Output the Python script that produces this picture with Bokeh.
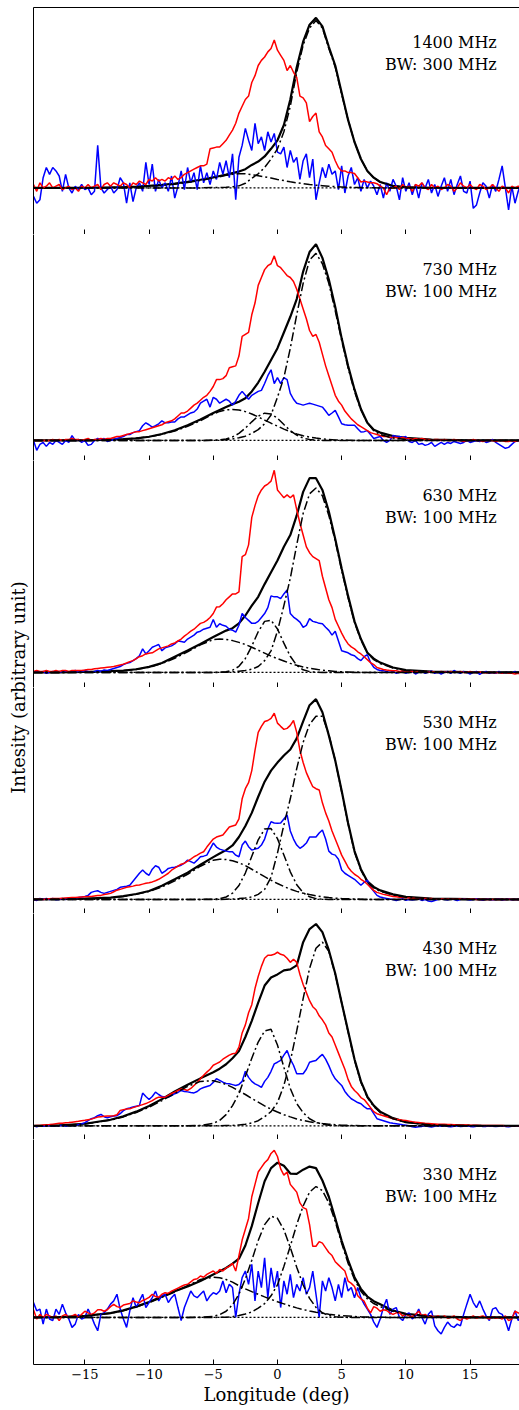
import numpy as np
from bokeh.plotting import figure
from bokeh.models import Range1d, FixedTicker, LinearAxis, Label, Span
from bokeh.layouts import row, column
from bokeh.embed import file_html
from bokeh.resources import INLINE
from bokeh.core.properties import value

FONT = "DejaVu Serif"

# ---------------- data ----------------
FREQ = ["1400 MHz", "730 MHz", "630 MHz", "530 MHz", "430 MHz", "330 MHz"]
BW = ["BW: 300 MHz", "BW: 100 MHz", "BW: 100 MHz", "BW: 100 MHz", "BW: 100 MHz", "BW: 100 MHz"]
TICKS = [-15, -10, -5, 0, 5, 10, 15]
TICK_LABELS = ["\u221215", "\u221210", "\u22125", "0", "5", "10", "15"]

# smooth-curve sample longitudes (deg)
XS = [-19, -17, -15, -13, -12, -11, -10, -9, -8, -7, -6, -5,
      -4.5, -4, -3.5, -3, -2.5, -2, -1.5, -1, -0.5, 0, 0.5, 1, 1.5, 2, 2.5,
      3, 3.5, 4, 4.5, 5, 5.5, 6, 6.5, 7, 7.5, 8,
      9, 10, 12, 15, 19]
# noisy-profile sample longitudes: -19 .. 19 every 0.25 deg
XN = np.linspace(-19, 19, 153)

# ---- 1400 MHz ----
P1_TOT = [0, 0, 0.001, 0.003, 0.005, 0.008, 0.012, 0.018, 0.026, 0.036, 0.048, 0.062,
          0.070, 0.078, 0.087, 0.096, 0.11, 0.135, 0.155, 0.185, 0.23, 0.28, 0.37, 0.52, 0.71, 0.86, 0.96,
          1.0, 0.95, 0.83, 0.72, 0.56, 0.40, 0.27, 0.17, 0.10, 0.06, 0.035,
          0.012, 0.005, 0.001, 0, 0]
P1_C1 = [0, 0, 0, 0.002, 0.004, 0.006, 0.01, 0.015, 0.022, 0.032, 0.044, 0.058,
         0.066, 0.074, 0.080, 0.084, 0.083, 0.078, 0.072, 0.065, 0.058, 0.050, 0.043, 0.036, 0.030, 0.025, 0.020,
         0.016, 0.013, 0.010, 0.008, 0.006, 0.004, 0.003, 0.002, 0.001, 0.001, 0,
         0, 0, 0, 0, 0]
P1_C2 = [0, 0, 0, 0, 0, 0, 0, 0, 0, 0, 0, 0.002,
         0.003, 0.004, 0.007, 0.012, 0.027, 0.057, 0.083, 0.12, 0.17, 0.23, 0.33, 0.48, 0.68, 0.84, 0.94,
         0.985, 0.94, 0.82, 0.71, 0.55, 0.40, 0.27, 0.17, 0.10, 0.06, 0.035,
         0.012, 0.005, 0.001, 0, 0]
P1_RED = [0.02, -0.02, 0.03, 0.00, 0.01, 0.03, 0.00, 0.01,
          0.02, -0.01, 0.00, 0.01, -0.01, 0.00, -0.02, 0.01,
          0.00, 0.02, 0.00, 0.01, 0.02, -0.01, 0.02, 0.03,
          0.01, 0.03, 0.02, 0.01, 0.03, 0.02, 0.00, 0.03,
          0.02, 0.04, 0.03, 0.02, 0.05, 0.04, 0.06, 0.04,
          0.05, 0.04, 0.06, 0.05, 0.07, 0.05, 0.06, 0.08,
          0.09, 0.10, 0.11, 0.12, 0.13, 0.13, 0.14, 0.23,
          0.235, 0.24, 0.24, 0.26, 0.28, 0.31, 0.34, 0.38,
          0.44, 0.48, 0.52, 0.54, 0.62, 0.66, 0.72, 0.75,
          0.77, 0.80, 0.82, 0.87, 0.81, 0.78, 0.75, 0.69,
          0.72, 0.68, 0.65, 0.54, 0.53, 0.50, 0.39, 0.42,
          0.44, 0.33, 0.30, 0.25, 0.23, 0.21, 0.16, 0.12,
          0.10, 0.10, 0.09, 0.09, 0.085, 0.06, 0.035, 0.04,
          0.035, 0.03, 0.03, 0.025, 0.01, 0.00, -0.04, 0.00,
          0.00, 0.01, -0.01, 0.02, 0.00, 0.01, -0.02, 0.02,
          0.01, 0.03, 0.00, -0.01, 0.02, 0.00, 0.01, -0.01,
          0.00, 0.02, 0.01, -0.02, 0.00, 0.03, 0.01, 0.00,
          0.02, 0.00, -0.01, 0.02, 0.01, -0.01, 0.00, 0.02,
          0.00, -0.02, 0.01, 0.00, -0.03, 0.01, 0.00, 0.01,
          0.00]
P1_BLUE = [-0.05, -0.09, -0.07, 0.06, 0.12, 0.08, 0.12, 0.10,
           0.07, -0.02, 0.08, 0.00, -0.03, 0.01, -0.01, 0.02,
           -0.01, 0.00, -0.04, -0.02, 0.25, 0.00, -0.03, -0.01,
           0.01, -0.03, -0.01, 0.06, 0.03, -0.09, 0.03, -0.08,
           0.00, 0.03, -0.02, 0.15, 0.02, 0.14, -0.02, 0.05,
           0.00, 0.03, -0.02, 0.07, -0.06, 0.01, 0.10, -0.01,
           0.12, 0.03, 0.09, -0.01, 0.13, 0.03, 0.09, 0.02,
           0.10, 0.05, 0.15, 0.08, 0.16, 0.06, 0.20, -0.07,
           0.18, 0.25, 0.35, 0.28, 0.22, 0.38, 0.26, 0.30,
           0.22, 0.33, 0.27, 0.32, 0.21, 0.20, 0.24, 0.12,
           0.22, 0.15, 0.18, 0.05, 0.16, 0.20, 0.06, 0.17,
           -0.07, 0.03, 0.12, 0.06, 0.14, 0.08, 0.10, -0.01,
           0.13, -0.03, 0.07, 0.12, 0.02, 0.06, -0.02, 0.05,
           0.00, 0.04, 0.01, -0.04, 0.02, -0.06, 0.03, -0.02,
           0.05, 0.01, -0.07, 0.06, -0.02, 0.03, -0.04, 0.02,
           -0.06, 0.03, 0.00, 0.05, -0.03, 0.02, -0.05, 0.01,
           0.06, -0.02, 0.05, -0.04, 0.02, 0.07, -0.02, -0.03,
           0.04, -0.12, -0.10, -0.03, 0.03, 0.01, -0.06, 0.02,
           -0.02, 0.05, 0.13, 0.00, -0.13, 0.01, -0.09, -0.02,
           0.03]

# ---- 730 MHz ----
P2_TOT = [0, 0, 0.001, 0.004, 0.007, 0.011, 0.019, 0.033, 0.052, 0.078, 0.107, 0.14,
          0.155, 0.17, 0.185, 0.197, 0.215, 0.25, 0.295, 0.35, 0.41, 0.47, 0.55, 0.63, 0.72, 0.86, 0.96,
          1.0, 0.93, 0.82, 0.68, 0.52, 0.38, 0.26, 0.16, 0.09, 0.055, 0.04,
          0.022, 0.013, 0.005, 0.001, 0]
P2_C1 = [0, 0, 0, 0.003, 0.006, 0.011, 0.019, 0.031, 0.048, 0.072, 0.10, 0.135,
         0.148, 0.156, 0.158, 0.155, 0.147, 0.135, 0.12, 0.104, 0.088, 0.073, 0.058, 0.045, 0.033, 0.024, 0.017,
         0.012, 0.008, 0.005, 0.003, 0.002, 0.001, 0, 0, 0, 0, 0,
         0, 0, 0, 0, 0]
P2_C2 = [0, 0, 0, 0, 0, 0, 0, 0, 0, 0, 0, 0.001,
         0.003, 0.008, 0.018, 0.036, 0.063, 0.095, 0.124, 0.139, 0.135, 0.113, 0.081, 0.05, 0.027, 0.012, 0.005,
         0.002, 0, 0, 0, 0, 0, 0, 0, 0, 0, 0,
         0, 0, 0, 0, 0]
P2_C3 = [0, 0, 0, 0, 0, 0, 0, 0, 0, 0, 0, 0.001,
         0.002, 0.004, 0.008, 0.014, 0.022, 0.036, 0.055, 0.085, 0.13, 0.22, 0.32, 0.47, 0.64, 0.80, 0.92,
         0.953, 0.90, 0.80, 0.66, 0.51, 0.37, 0.25, 0.155, 0.09, 0.05, 0.03,
         0.012, 0.005, 0.001, 0, 0]
P2_RED = [0.00, 0.00, 0.00, 0.00, 0.00, 0.00, 0.005, 0.00,
          0.005, 0.00, 0.005, 0.005, 0.01, 0.005, 0.005, 0.00,
          0.005, 0.01, 0.00, 0.005, 0.005, 0.01, 0.005, 0.01,
          0.01, 0.015, 0.02, 0.02, 0.025, 0.03, 0.035, 0.04,
          0.045, 0.045, 0.05, 0.055, 0.06, 0.065, 0.07, 0.075,
          0.08, 0.09, 0.095, 0.10, 0.11, 0.125, 0.14, 0.14,
          0.15, 0.165, 0.18, 0.19, 0.205, 0.22, 0.23, 0.25,
          0.275, 0.31, 0.31, 0.315, 0.33, 0.37, 0.375, 0.38,
          0.43, 0.53, 0.54, 0.55, 0.64, 0.70, 0.79, 0.83,
          0.87, 0.89, 0.90, 0.94, 0.89, 0.88, 0.86, 0.84,
          0.83, 0.81, 0.77, 0.72, 0.67, 0.62, 0.56, 0.53,
          0.54, 0.50, 0.44, 0.38, 0.33, 0.28, 0.23, 0.20,
          0.18, 0.15, 0.13, 0.11, 0.095, 0.08, 0.07, 0.06,
          0.05, 0.04, 0.035, 0.03, 0.025, 0.02, 0.02, 0.015,
          0.015, 0.015, 0.01, 0.015, 0.01, 0.01, 0.005, 0.01,
          0.005, 0.01, 0.005, 0.005, 0.00, 0.005, 0.005, 0.00,
          0.005, 0.00, 0.00, 0.005, 0.00, 0.00, -0.005, 0.00,
          0.00, 0.005, 0.00, 0.00, -0.005, 0.00, 0.00, 0.00,
          -0.005, 0.00, 0.00, -0.005, -0.005, 0.00, -0.005, 0.00,
          0.00]
P2_BLUE = [0.00, -0.05, -0.02, -0.01, -0.03, -0.01, -0.02, 0.00,
           -0.01, -0.02, 0.00, -0.01, 0.025, 0.00, 0.005, -0.01,
           0.00, -0.025, -0.02, 0.00, 0.01, 0.005, 0.01, -0.005,
           0.00, 0.005, 0.01, 0.015, 0.02, 0.03, 0.03, 0.04,
           0.045, 0.05, 0.075, 0.09, 0.08, 0.068, 0.075, 0.085,
           0.10, 0.09, 0.09, 0.094, 0.094, 0.11, 0.12, 0.12,
           0.13, 0.14, 0.145, 0.16, 0.19, 0.20, 0.21, 0.17,
           0.22, 0.21, 0.19, 0.20, 0.21, 0.20, 0.18, 0.20,
           0.23, 0.25, 0.23, 0.21, 0.23, 0.24, 0.25, 0.255,
           0.29, 0.33, 0.36, 0.29, 0.32, 0.29, 0.32, 0.31,
           0.24, 0.21, 0.19, 0.185, 0.18, 0.185, 0.19, 0.185,
           0.18, 0.175, 0.17, 0.15, 0.128, 0.14, 0.153, 0.12,
           0.085, 0.08, 0.077, 0.077, 0.077, 0.06, 0.043, 0.045,
           0.05, 0.03, 0.01, 0.015, 0.02, 0.00, -0.01, 0.00,
           0.025, 0.02, 0.02, 0.015, 0.02, -0.005, -0.01, 0.00,
           -0.02, -0.015, -0.025, -0.02, -0.01, -0.03, -0.02, -0.01,
           -0.02, -0.01, -0.015, -0.005, -0.01, -0.015, -0.01, 0.00,
           -0.01, -0.005, 0.00, -0.005, 0.00, -0.01, -0.005, 0.005,
           -0.01, -0.02, -0.03, -0.04, -0.035, -0.02, -0.005, 0.00,
           0.00]

# ---- 630 MHz ----
P3_TOT = [0, 0, 0.002, 0.006, 0.009, 0.016, 0.028, 0.048, 0.08, 0.112, 0.145, 0.18,
          0.197, 0.213, 0.225, 0.25, 0.29, 0.34, 0.385, 0.45, 0.51, 0.57, 0.64, 0.70, 0.80, 0.92, 0.99,
          0.99, 0.93, 0.82, 0.68, 0.53, 0.39, 0.26, 0.17, 0.10, 0.07, 0.05,
          0.025, 0.012, 0.004, 0.001, 0]
P3_C1 = [0, 0, 0.001, 0.005, 0.009, 0.015, 0.026, 0.045, 0.072, 0.105, 0.14, 0.167,
         0.17, 0.168, 0.162, 0.153, 0.142, 0.128, 0.113, 0.098, 0.083, 0.07, 0.058, 0.046, 0.036, 0.028, 0.021,
         0.016, 0.011, 0.008, 0.005, 0.003, 0.002, 0.001, 0, 0, 0, 0,
         0, 0, 0, 0, 0]
P3_C2 = [0, 0, 0, 0, 0, 0, 0, 0, 0, 0, 0, 0,
         0.001, 0.003, 0.011, 0.031, 0.071, 0.134, 0.207, 0.26, 0.266, 0.221, 0.149, 0.082, 0.036, 0.013, 0.004,
         0.001, 0, 0, 0, 0, 0, 0, 0, 0, 0, 0,
         0, 0, 0, 0, 0]
P3_C3 = [0, 0, 0, 0, 0, 0, 0, 0, 0, 0, 0, 0,
         0, 0.001, 0.003, 0.006, 0.01, 0.016, 0.03, 0.06, 0.11, 0.21, 0.34, 0.48, 0.65, 0.81, 0.91,
         0.94, 0.90, 0.80, 0.67, 0.52, 0.38, 0.255, 0.165, 0.10, 0.065, 0.045,
         0.022, 0.01, 0.003, 0, 0]
P3_RED = [0.005, 0.01, 0.005, 0.005, 0.01, 0.005, 0.005, 0.01,
          0.005, 0.01, 0.01, 0.005, 0.01, 0.01, 0.01, 0.01,
          0.012, 0.015, 0.015, 0.018, 0.02, 0.022, 0.024, 0.026,
          0.028, 0.03, 0.034, 0.038, 0.042, 0.048, 0.055, 0.06,
          0.07, 0.08, 0.085, 0.094, 0.097, 0.10, 0.11, 0.12,
          0.125, 0.13, 0.135, 0.145, 0.15, 0.16, 0.17, 0.185,
          0.197, 0.21, 0.22, 0.235, 0.25, 0.255, 0.265, 0.28,
          0.30, 0.333, 0.335, 0.35, 0.37, 0.385, 0.40, 0.40,
          0.41, 0.59, 0.60, 0.65, 0.79, 0.85, 0.90, 0.93,
          0.95, 0.96, 0.975, 1.03, 0.93, 0.91, 0.89, 0.905,
          0.89, 0.905, 0.83, 0.76, 0.70, 0.64, 0.61, 0.59,
          0.58, 0.57, 0.49, 0.43, 0.37, 0.33, 0.27, 0.235,
          0.20, 0.17, 0.145, 0.13, 0.12, 0.105, 0.094, 0.08,
          0.065, 0.05, 0.04, 0.025, 0.02, 0.015, 0.012, 0.01,
          0.008, 0.008, 0.005, 0.008, 0.005, 0.005, 0.005, 0.002,
          0.005, 0.002, 0.005, 0.00, 0.005, 0.002, 0.00, 0.005,
          0.002, 0.00, 0.005, 0.00, 0.002, 0.005, 0.00, 0.00,
          0.005, 0.00, 0.00, 0.002, 0.00, -0.002, 0.00, 0.00,
          -0.002, 0.00, -0.005, 0.00, -0.005, -0.005, -0.008, -0.005,
          -0.008]
P3_BLUE = [0.00, 0.005, 0.00, 0.005, -0.005, 0.00, 0.005, 0.00,
           0.005, 0.00, 0.008, 0.00, 0.005, 0.01, 0.00, 0.005,
           0.01, 0.005, 0.00, 0.005, 0.01, 0.005, 0.012, 0.01,
           0.015, 0.02, 0.025, 0.03, 0.04, 0.046, 0.05, 0.06,
           0.07, 0.085, 0.12, 0.094, 0.11, 0.128, 0.135, 0.142,
           0.11, 0.125, 0.13, 0.135, 0.145, 0.16, 0.157, 0.154,
           0.17, 0.18, 0.19, 0.205, 0.21, 0.22, 0.225, 0.23,
           0.27, 0.23, 0.248, 0.24, 0.235, 0.22, 0.215, 0.205,
           0.24, 0.30, 0.28, 0.265, 0.25, 0.25, 0.26, 0.28,
           0.30, 0.33, 0.39, 0.385, 0.385, 0.376, 0.40, 0.42,
           0.30, 0.282, 0.27, 0.256, 0.23, 0.24, 0.274, 0.26,
           0.256, 0.25, 0.248, 0.23, 0.214, 0.19, 0.21, 0.16,
           0.11, 0.105, 0.10, 0.09, 0.085, 0.07, 0.06, 0.08,
           0.09, 0.05, 0.026, 0.015, 0.01, 0.008, 0.005, 0.00,
           0.005, -0.005, 0.00, 0.005, -0.005, 0.00, 0.005, -0.008,
           0.00, 0.005, -0.005, 0.00, 0.008, -0.005, 0.00, -0.008,
           0.00, 0.005, -0.005, 0.01, 0.00, -0.005, 0.005, 0.00,
           -0.008, 0.00, 0.005, -0.01, 0.00, 0.005, -0.005, 0.00,
           -0.005, 0.005, -0.005, 0.00, 0.00, -0.005, 0.005, -0.005,
           0.00]

# ---- 530 MHz ----
P4_TOT = [0, 0.001, 0.004, 0.009, 0.016, 0.027, 0.042, 0.068, 0.10, 0.133, 0.172, 0.21,
          0.228, 0.245, 0.268, 0.31, 0.365, 0.43, 0.51, 0.585, 0.64, 0.68, 0.715, 0.745, 0.80, 0.885, 0.965,
          0.995, 0.93, 0.815, 0.69, 0.54, 0.38, 0.24, 0.15, 0.09, 0.062, 0.045,
          0.025, 0.013, 0.004, 0.001, 0]
P4_C1 = [0, 0.001, 0.003, 0.008, 0.015, 0.025, 0.04, 0.062, 0.092, 0.125, 0.165, 0.195,
         0.2, 0.198, 0.192, 0.182, 0.168, 0.15, 0.132, 0.113, 0.095, 0.079, 0.064, 0.051, 0.04, 0.031, 0.024,
         0.018, 0.013, 0.009, 0.006, 0.004, 0.003, 0.002, 0.001, 0, 0, 0,
         0, 0, 0, 0, 0]
P4_C2 = [0, 0, 0, 0, 0, 0, 0, 0, 0, 0, 0, 0.001,
         0.004, 0.012, 0.031, 0.069, 0.131, 0.214, 0.296, 0.35, 0.352, 0.302, 0.221, 0.137, 0.073, 0.033, 0.013,
         0.004, 0.001, 0, 0, 0, 0, 0, 0, 0, 0, 0,
         0, 0, 0, 0, 0]
P4_C3 = [0, 0, 0, 0, 0, 0, 0, 0, 0, 0, 0, 0,
         0, 0.001, 0.002, 0.004, 0.007, 0.012, 0.025, 0.05, 0.11, 0.23, 0.37, 0.50, 0.65, 0.78, 0.87,
         0.91, 0.91, 0.82, 0.69, 0.535, 0.375, 0.235, 0.145, 0.085, 0.057, 0.04,
         0.022, 0.011, 0.003, 0, 0]
P4_RED = [0.00, 0.00, 0.002, 0.00, 0.002, 0.003, 0.004, 0.004,
          0.005, 0.006, 0.007, 0.008, 0.009, 0.01, 0.011, 0.012,
          0.013, 0.014, 0.015, 0.017, 0.019, 0.02, 0.024, 0.027,
          0.03, 0.038, 0.046, 0.05, 0.055, 0.06, 0.063, 0.066,
          0.07, 0.072, 0.076, 0.08, 0.083, 0.087, 0.093, 0.10,
          0.11, 0.12, 0.13, 0.145, 0.155, 0.165, 0.175, 0.18,
          0.19, 0.20, 0.212, 0.22, 0.23, 0.237, 0.26, 0.28,
          0.30, 0.31, 0.315, 0.32, 0.34, 0.36, 0.365, 0.37,
          0.40, 0.50, 0.55, 0.58, 0.64, 0.74, 0.83, 0.86,
          0.884, 0.889, 0.90, 0.925, 0.876, 0.86, 0.845, 0.85,
          0.865, 0.889, 0.83, 0.74, 0.68, 0.63, 0.594, 0.56,
          0.55, 0.544, 0.48, 0.43, 0.39, 0.34, 0.30, 0.26,
          0.22, 0.19, 0.16, 0.14, 0.125, 0.115, 0.10, 0.09,
          0.075, 0.06, 0.045, 0.035, 0.03, 0.025, 0.022, 0.018,
          0.015, 0.013, 0.011, 0.01, 0.008, 0.007, 0.006, 0.005,
          0.005, 0.004, 0.004, 0.003, 0.004, 0.003, 0.002, 0.003,
          0.002, 0.002, 0.003, 0.002, 0.001, 0.002, 0.001, 0.001,
          0.001, 0.002, 0.00, 0.001, 0.00, 0.001, 0.00, 0.00,
          0.00, 0.001, 0.00, 0.00, 0.001, 0.00, 0.00, 0.00,
          0.00]
P4_BLUE = [0.00, -0.005, 0.005, 0.00, 0.005, 0.00, 0.005, -0.002,
           0.00, 0.005, 0.00, 0.008, 0.00, 0.005, 0.01, 0.012,
           0.015, 0.02, 0.035, 0.04, 0.043, 0.035, 0.03, 0.035,
           0.04, 0.045, 0.05, 0.06, 0.063, 0.065, 0.07, 0.09,
           0.11, 0.13, 0.146, 0.13, 0.12, 0.15, 0.167, 0.16,
           0.13, 0.14, 0.154, 0.158, 0.16, 0.165, 0.17, 0.18,
           0.195, 0.188, 0.18, 0.195, 0.212, 0.215, 0.22, 0.25,
           0.28, 0.26, 0.25, 0.245, 0.24, 0.237, 0.237, 0.22,
           0.212, 0.27, 0.29, 0.262, 0.245, 0.25, 0.254, 0.27,
           0.30, 0.35, 0.386, 0.38, 0.378, 0.38, 0.40, 0.42,
           0.34, 0.30, 0.27, 0.254, 0.265, 0.28, 0.31, 0.31,
           0.31, 0.33, 0.345, 0.30, 0.24, 0.225, 0.22, 0.20,
           0.146, 0.13, 0.12, 0.11, 0.10, 0.085, 0.07, 0.085,
           0.096, 0.06, 0.04, 0.02, 0.012, 0.008, 0.005, 0.002,
           0.00, -0.005, 0.00, 0.003, -0.004, 0.00, -0.003, 0.00,
           0.002, -0.005, 0.00, -0.008, -0.01, -0.005, 0.00, 0.003,
           0.00, -0.003, 0.002, 0.00, -0.005, 0.00, 0.004, 0.00,
           -0.003, 0.00, 0.003, 0.00, -0.004, 0.002, 0.00, -0.002,
           0.00, 0.003, -0.003, 0.00, 0.002, -0.002, 0.00, 0.00,
           0.00]

# ---- 430 MHz ----
P5_TOT = [0, 0.002, 0.01, 0.03, 0.047, 0.07, 0.098, 0.132, 0.17, 0.203, 0.235, 0.265,
          0.283, 0.305, 0.335, 0.37, 0.44, 0.52, 0.61, 0.695, 0.735, 0.75, 0.77, 0.775, 0.795, 0.91, 0.975,
          1.0, 0.96, 0.87, 0.755, 0.61, 0.47, 0.33, 0.22, 0.145, 0.10, 0.07,
          0.038, 0.018, 0.005, 0.001, 0]
P5_C1 = [0, 0.002, 0.009, 0.028, 0.044, 0.066, 0.092, 0.125, 0.16, 0.195, 0.22, 0.223,
         0.215, 0.205, 0.19, 0.172, 0.155, 0.135, 0.117, 0.099, 0.082, 0.068, 0.055, 0.044, 0.034, 0.026, 0.02,
         0.015, 0.011, 0.008, 0.005, 0.003, 0.002, 0.001, 0, 0, 0, 0,
         0, 0, 0, 0, 0]
P5_C2 = [0, 0, 0, 0, 0, 0, 0, 0, 0, 0, 0.002, 0.012,
         0.027, 0.055, 0.10, 0.16, 0.245, 0.335, 0.415, 0.47, 0.478, 0.40, 0.29, 0.185, 0.11, 0.065, 0.035,
         0.018, 0.008, 0.003, 0.001, 0, 0, 0, 0, 0, 0, 0,
         0, 0, 0, 0, 0]
P5_C3 = [0, 0, 0, 0, 0, 0, 0, 0, 0, 0, 0, 0,
         0, 0.001, 0.002, 0.004, 0.008, 0.014, 0.025, 0.045, 0.07, 0.115, 0.2, 0.32, 0.47, 0.63, 0.78,
         0.88, 0.91, 0.865, 0.75, 0.61, 0.465, 0.325, 0.215, 0.14, 0.095, 0.066,
         0.035, 0.017, 0.004, 0.001, 0]
P5_RED = [0.00, 0.002, 0.002, 0.004, 0.005, 0.006, 0.008, 0.01,
          0.012, 0.013, 0.015, 0.016, 0.018, 0.02, 0.022, 0.025,
          0.027, 0.03, 0.033, 0.038, 0.043, 0.045, 0.047, 0.048,
          0.049, 0.05, 0.055, 0.076, 0.08, 0.083, 0.084, 0.09,
          0.095, 0.10, 0.105, 0.11, 0.117, 0.125, 0.135, 0.142,
          0.142, 0.142, 0.15, 0.16, 0.167, 0.175, 0.183, 0.18,
          0.175, 0.185, 0.20, 0.215, 0.233, 0.25, 0.266, 0.28,
          0.30, 0.308, 0.316, 0.33, 0.34, 0.35, 0.357, 0.36,
          0.39, 0.46, 0.50, 0.56, 0.60, 0.68, 0.74, 0.79,
          0.83, 0.845, 0.845, 0.85, 0.86, 0.85, 0.845, 0.83,
          0.81, 0.825, 0.81, 0.75, 0.70, 0.66, 0.62, 0.59,
          0.575, 0.545, 0.525, 0.50, 0.46, 0.44, 0.40, 0.36,
          0.32, 0.28, 0.23, 0.195, 0.175, 0.16, 0.14, 0.13,
          0.11, 0.09, 0.07, 0.06, 0.055, 0.05, 0.045, 0.04,
          0.035, 0.032, 0.03, 0.028, 0.026, 0.023, 0.02, 0.018,
          0.016, 0.014, 0.012, 0.011, 0.01, 0.009, 0.008, 0.007,
          0.007, 0.006, 0.006, 0.005, 0.005, 0.004, 0.004, 0.004,
          0.003, 0.003, 0.003, 0.002, 0.002, 0.002, 0.002, 0.001,
          0.001, 0.001, 0.001, 0.00, 0.00, 0.00, 0.00, 0.00,
          0.00]
P5_BLUE = [0.00, -0.005, 0.00, -0.003, 0.00, 0.002, -0.002, 0.00,
           0.00, 0.002, -0.003, 0.00, 0.003, 0.00, 0.005, 0.01,
           0.015, 0.025, 0.035, 0.04, 0.05, 0.056, 0.045, 0.04,
           0.045, 0.048, 0.05, 0.06, 0.075, 0.084, 0.088, 0.093,
           0.097, 0.10, 0.162, 0.145, 0.13, 0.145, 0.167, 0.155,
           0.145, 0.143, 0.142, 0.15, 0.159, 0.165, 0.175, 0.17,
           0.168, 0.165, 0.163, 0.17, 0.183, 0.19, 0.195, 0.20,
           0.215, 0.233, 0.225, 0.216, 0.21, 0.208, 0.204, 0.20,
           0.205, 0.22, 0.27, 0.24, 0.22, 0.208, 0.20, 0.19,
           0.22, 0.24, 0.27, 0.307, 0.315, 0.324, 0.35, 0.373,
           0.33, 0.30, 0.258, 0.258, 0.258, 0.28, 0.315, 0.32,
           0.324, 0.34, 0.354, 0.33, 0.298, 0.26, 0.233, 0.216,
           0.20, 0.17, 0.15, 0.134, 0.125, 0.115, 0.109, 0.095,
           0.084, 0.085, 0.06, 0.035, 0.03, 0.025, 0.02, 0.015,
           0.012, 0.01, 0.008, 0.005, 0.003, 0.00, -0.005, -0.007,
           -0.005, -0.003, 0.00, -0.004, -0.006, -0.003, 0.00, -0.002,
           0.00, -0.003, -0.005, -0.002, 0.00, -0.004, -0.002, 0.00,
           -0.003, -0.005, -0.002, 0.00, -0.004, -0.003, 0.00, -0.002,
           -0.004, -0.002, 0.00, -0.003, -0.005, -0.002, 0.00, -0.002,
           0.00]

# ---- 330 MHz ----
P6_TOT = [0, 0.002, 0.01, 0.028, 0.046, 0.07, 0.10, 0.135, 0.17, 0.2, 0.236, 0.278,
          0.298, 0.32, 0.348, 0.38, 0.465, 0.59, 0.74, 0.88, 0.965, 1.0, 0.98, 0.93, 0.928, 0.955, 0.975,
          0.965, 0.885, 0.78, 0.64, 0.495, 0.37, 0.26, 0.185, 0.135, 0.105, 0.085,
          0.045, 0.024, 0.007, 0.001, 0]
P6_C1 = [0, 0.002, 0.009, 0.027, 0.044, 0.067, 0.096, 0.13, 0.165, 0.205, 0.245, 0.26,
         0.256, 0.245, 0.228, 0.205, 0.185, 0.167, 0.15, 0.133, 0.117, 0.102, 0.088, 0.074, 0.062, 0.051, 0.042,
         0.034, 0.027, 0.021, 0.016, 0.012, 0.009, 0.006, 0.004, 0.003, 0.002, 0.001,
         0, 0, 0, 0, 0]
P6_C2 = [0, 0, 0, 0, 0, 0, 0, 0, 0, 0, 0.001, 0.007,
         0.018, 0.04, 0.082, 0.151, 0.249, 0.37, 0.497, 0.60, 0.654, 0.641, 0.567, 0.452, 0.325, 0.21, 0.123,
         0.065, 0.03, 0.013, 0.005, 0.002, 0, 0, 0, 0, 0, 0,
         0, 0, 0, 0, 0]
P6_C3 = [0, 0, 0, 0, 0, 0, 0, 0, 0, 0, 0, 0,
         0.001, 0.002, 0.005, 0.012, 0.022, 0.035, 0.06, 0.09, 0.14, 0.21, 0.33, 0.46, 0.60, 0.72, 0.81,
         0.846, 0.82, 0.74, 0.62, 0.48, 0.35, 0.245, 0.17, 0.12, 0.09, 0.07,
         0.04, 0.02, 0.005, 0.001, 0]
P6_RED = [0.05, -0.01, 0.02, 0.00, 0.02, 0.01, 0.00, 0.01,
          -0.02, 0.01, 0.02, 0.00, 0.01, 0.02, 0.00, 0.02,
          0.04, 0.03, 0.02, 0.03, 0.05, 0.05, 0.04, 0.05,
          0.07, 0.085, 0.07, 0.065, 0.08, 0.085, 0.09, 0.107,
          0.10, 0.095, 0.11, 0.118, 0.13, 0.15, 0.135, 0.13,
          0.15, 0.16, 0.155, 0.17, 0.18, 0.19, 0.20, 0.21,
          0.214, 0.23, 0.246, 0.25, 0.268, 0.26, 0.278, 0.29,
          0.30, 0.285, 0.31, 0.30, 0.32, 0.33, 0.35, 0.30,
          0.40, 0.50, 0.57, 0.64, 0.78, 0.86, 0.94, 0.97,
          1.0, 1.02, 1.06, 1.08, 1.04, 0.96, 0.92, 0.94,
          0.86, 0.835, 0.81, 0.74, 0.71, 0.70, 0.60, 0.46,
          0.46, 0.49, 0.48, 0.45, 0.42, 0.40, 0.36, 0.34,
          0.32, 0.30, 0.235, 0.22, 0.20, 0.14, 0.12, 0.105,
          0.06, 0.03, 0.07, 0.06, 0.04, 0.05, 0.045, 0.03,
          0.02, 0.03, 0.03, 0.01, 0.02, 0.01, 0.005, 0.02,
          0.04, 0.01, 0.02, 0.00, 0.01, 0.00, 0.01, 0.00,
          0.01, -0.005, 0.00, 0.01, -0.01, -0.02, 0.00, -0.01,
          0.00, 0.01, -0.005, 0.005, 0.01, 0.00, -0.01, 0.005,
          -0.005, 0.00, -0.01, 0.01, -0.02, -0.01, 0.04, 0.03,
          0.02]
P6_BLUE = [0.096, 0.043, 0.054, -0.043, 0.054, -0.01, -0.02, 0.054,
           0.02, 0.086, 0.03, -0.01, -0.064, -0.043, 0.02, -0.01,
           0.0, 0.054, 0.01, -0.043, -0.086, 0.02, 0.03, 0.054,
           0.086, 0.107, 0.15, 0.054, -0.01, -0.064, 0.043, 0.128,
           0.064, 0.107, 0.15, 0.064, 0.096, 0.128, 0.171, 0.107,
           0.139, 0.15, 0.096, 0.128, 0.15, 0.064, -0.02, 0.064,
           0.118, 0.171, 0.139, 0.128, 0.15, 0.171, 0.107, 0.139,
           0.16, 0.15, 0.171, 0.236, 0.16, 0.214, 0.193, 0.0,
           0.15, 0.257, 0.30, 0.214, 0.343, 0.107, 0.30, 0.193,
           0.385, 0.128, 0.321, 0.193, 0.30, 0.064, 0.236, 0.15,
           0.278, 0.128, 0.214, 0.171, 0.257, 0.15, 0.193, 0.30,
           0.15, 0.0, 0.236, 0.171, 0.257, 0.193, 0.107, 0.214,
           0.128, 0.257, 0.171, 0.193, 0.128, 0.193, 0.128, 0.086,
           0.054, 0.02, -0.03, -0.064, -0.01, 0.064, 0.118, 0.02,
           0.054, 0.064, 0.0, -0.02, 0.02, 0.03, -0.01, 0.01,
           0.054, 0.0, -0.043, 0.02, 0.043, -0.054, -0.086, -0.107,
           -0.064, -0.03, -0.054, -0.064, -0.043, -0.054, 0.02, 0.086,
           0.15, 0.096, 0.064, 0.107, 0.054, 0.01, -0.02, 0.054,
           0.064, 0.03, 0.02, -0.02, -0.086, -0.01, 0.043, -0.02,
           0.0]

PANELS = [
    dict(tot=P1_TOT, comps=[P1_C1, P1_C2], red=P1_RED, blue=P1_BLUE),
    dict(tot=P2_TOT, comps=[P2_C1, P2_C2, P2_C3], red=P2_RED, blue=P2_BLUE),
    dict(tot=P3_TOT, comps=[P3_C1, P3_C2, P3_C3], red=P3_RED, blue=P3_BLUE),
    dict(tot=P4_TOT, comps=[P4_C1, P4_C2, P4_C3], red=P4_RED, blue=P4_BLUE),
    dict(tot=P5_TOT, comps=[P5_C1, P5_C2, P5_C3], red=P5_RED, blue=P5_BLUE),
    dict(tot=P6_TOT, comps=[P6_C1, P6_C2, P6_C3], red=P6_RED, blue=P6_BLUE),
]

for k, pdat in enumerate(PANELS):
    for name in ("red", "blue"):
        if len(pdat[name]) != len(XN):
            raise ValueError(f"panel {k+1} {name}: {len(pdat[name])}")
    for j, c in enumerate([pdat["tot"]] + pdat["comps"]):
        if len(c) != len(XS):
            raise ValueError(f"panel {k+1} smooth {j}: {len(c)}")

# ---------------- layout ----------------
YLIM = [(-0.274, 1.061), (-0.102, 1.049), (-0.077, 1.080),
        (-0.070, 1.053), (-0.068, 1.052), (-0.304, 1.150)]
FRAME_HS = [227, 226, 227, 226, 226, 226]
TOP_PAD = 7
BOTTOM_EXTRA = 42
PANEL_W = 486
LABEL_W = 33
TEXT_X = 17.08

xr = Range1d(-19, 18.85)


def hide_axis(ax):
    ax.ticker = FixedTicker(ticks=[], minor_ticks=[])
    ax.major_tick_in = 0
    ax.major_tick_out = 0
    ax.minor_tick_in = 0
    ax.minor_tick_out = 0
    ax.major_label_text_color = None
    ax.major_label_standoff = 0
    ax.axis_line_color = "black"
    ax.axis_line_width = 1


figs = []
for i, pdat in enumerate(PANELS):
    last = i == len(PANELS) - 1
    fh = FRAME_HS[i]
    h = fh + (BOTTOM_EXTRA if last else 0) + (TOP_PAD if i == 0 else 0)
    ylo, yhi = YLIM[i]
    p = figure(width=PANEL_W, height=h, x_range=xr, y_range=Range1d(ylo, yhi),
               output_backend="svg", toolbar_location=None,
               min_border_left=0, min_border_right=0,
               min_border_top=TOP_PAD if i == 0 else 0, min_border_bottom=0)
    p.outline_line_color = None
    p.xgrid.visible = False
    p.ygrid.visible = False
    p.background_fill_color = "white"
    p.border_fill_color = "white"

    xa = p.xaxis[0]
    xa.ticker = FixedTicker(ticks=TICKS, minor_ticks=[])
    xa.major_tick_in = 5
    xa.major_tick_out = 0
    xa.minor_tick_in = 0
    xa.minor_tick_out = 0
    xa.axis_line_color = "black"
    xa.major_tick_line_color = "black"
    if last:
        xa.major_label_overrides = {t: lab for t, lab in zip(TICKS, TICK_LABELS)}
        xa.major_label_text_font = FONT
        xa.major_label_text_font_size = "13px"
        xa.major_label_text_color = "black"
        xa.major_label_standoff = 4
        xa.axis_label = "Longitude (deg)"
        xa.axis_label_text_font = FONT
        xa.axis_label_text_font_size = "18px"
        xa.axis_label_text_font_style = "normal"
        xa.axis_label_text_color = "black"
        xa.axis_label_standoff = 2
    else:
        xa.major_label_text_color = None
        xa.major_label_text_font_size = "1px"
        xa.major_label_standoff = 0

    hide_axis(p.yaxis[0])
    if i == 0:
        top = LinearAxis()
        hide_axis(top)
        p.add_layout(top, "above")

    # profiles
    p.line(XS, pdat["tot"], line_color="black", line_width=2.2)
    p.line(XN, pdat["blue"], line_color="#0000ff", line_width=1.5)
    p.line(XN, pdat["red"], line_color="#ff0000", line_width=1.5)
    for c in pdat["comps"]:
        p.line(XS, c, line_color="black", line_width=1.5, line_dash="9 3 2 3")
    p.add_layout(Span(location=0, dimension="width", line_color="black",
                      line_width=1.3, line_dash="2 2"))

    ppu = fh / (yhi - ylo)
    for txt, off in ((FREQ[i], 35), (BW[i], 57)):
        p.add_layout(Label(x=TEXT_X, y=yhi - off / ppu, text=txt,
                           text_align="right", text_baseline="alphabetic",
                           text_font=FONT, text_font_size="16px", text_color="black"))
    figs.append(p)

LAB_H = TOP_PAD + sum(FRAME_HS)
lab = figure(width=LABEL_W, height=LAB_H, x_range=Range1d(0, 1), y_range=Range1d(0, 1),
             output_backend="svg", toolbar_location=None,
             min_border_left=0, min_border_right=0, min_border_top=0, min_border_bottom=0)
lab.axis.visible = False
lab.xgrid.visible = False
lab.ygrid.visible = False
lab.outline_line_color = None
lab.text(x=[0.56], y=[1 - 687 / LAB_H], text=["Intesity (arbitrary unit)"], angle=np.pi / 2,
         text_align="center", text_baseline="middle",
         text_font=value(FONT), text_font_size=value("18px"), text_color="black")

layout = row(lab, column(*figs))
open("out.html", "w").write(file_html(layout, INLINE))
